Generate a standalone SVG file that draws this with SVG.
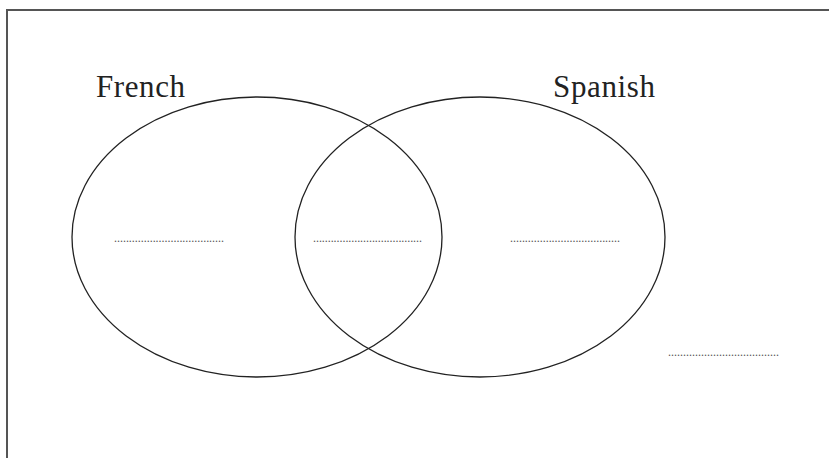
<svg xmlns="http://www.w3.org/2000/svg" width="829" height="458" viewBox="0 0 829 458">
<style>
.lbl{font-family:"Liberation Serif",serif;font-size:31px;fill:#222}
.dots{font-family:"Liberation Serif",serif;font-size:12px;fill:#555;letter-spacing:0}
.set{fill:none;stroke:#222;stroke-width:1.3}
</style>
<rect x="0" y="0" width="829" height="458" fill="#fff"/>
<rect x="7" y="10" width="830" height="460" fill="none" stroke="#555" stroke-width="2"/>
<g id="french">
<ellipse class="set" cx="257" cy="237" rx="185" ry="140"/>
<text class="lbl" x="96" y="97" textLength="89">French</text>
</g>
<g id="spanish">
<ellipse class="set" cx="480" cy="237" rx="185" ry="140"/>
<text class="lbl" x="553" y="97" textLength="102">Spanish</text>
</g>
<g id="blanks">
<text class="dots" x="114" y="242" textLength="110">.....................................</text>
<text class="dots" x="313" y="242" textLength="109">.....................................</text>
<text class="dots" x="510" y="242" textLength="110">.....................................</text>
<text class="dots" x="668" y="356" textLength="111">.....................................</text>
</g>
</svg>
